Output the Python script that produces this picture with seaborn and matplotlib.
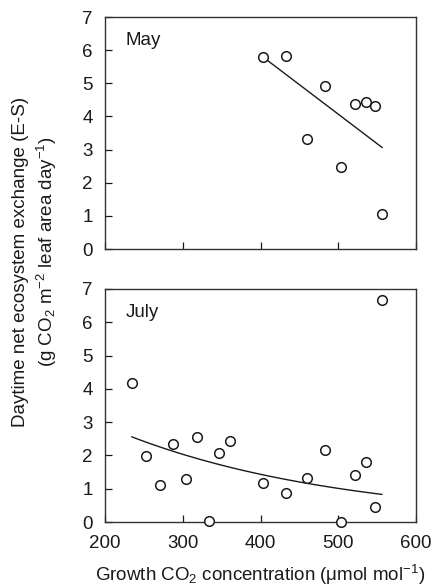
import matplotlib
matplotlib.use("Agg")
import matplotlib.pyplot as plt
import seaborn as sns
import numpy as np
import pandas as pd

# ---- data ----
may_co2 = [402.8, 432.8, 459.7, 483.4, 503.5, 521.5, 535.7, 547.7, 556.6]
may_nee = [5.80, 5.83, 3.32, 4.93, 2.48, 4.38, 4.43, 4.31, 1.06]
may_fit_x = [402.8, 556.6]
may_fit_y = [5.80, 3.06]

july_co2 = [234.3, 253.1, 270.7, 287.9, 303.6, 318.6, 333.8, 347.0, 360.2,
            403.2, 432.8, 459.7, 483.4, 503.1, 521.1, 535.7, 547.7, 556.3]
july_nee = [4.18, 1.97, 1.10, 2.34, 1.30, 2.55, 0.02, 2.06, 2.43,
            1.16, 0.87, 1.33, 2.15, 0.00, 1.41, 1.80, 0.46, 6.67]
# exponential fit y = a * exp(b * x), drawn from first to last CO2 level
july_fit_a = 2.56 * np.exp(0.0035 * 234.3)
july_fit_b = -0.0035
july_fit_range = [234.3, 556.3]

x_ticks = [200, 300, 400, 500, 600]
y_ticks = [0, 1, 2, 3, 4, 5, 6, 7]
panel_labels = ["May", "July"]

sns.set_style("ticks")
plt.rcParams['font.family'] = ['Liberation Sans', 'DejaVu Sans']
plt.rcParams['mathtext.fontset'] = 'custom'
plt.rcParams['mathtext.rm'] = 'Liberation Sans'
plt.rcParams['mathtext.it'] = 'Liberation Sans:italic'

FS = 13.5
fig = plt.figure(figsize=(4.32, 5.87), dpi=100)
ax1 = fig.add_axes([0.2431, 0.5758, 0.7199, 0.3952])
ax2 = fig.add_axes([0.2431, 0.1107, 0.7199, 0.3970])

col = "#1a1a1a"

may_df = pd.DataFrame({"co2": may_co2, "nee": may_nee})
july_df = pd.DataFrame({"co2": july_co2, "nee": july_nee})
may_fit = pd.DataFrame({"co2": may_fit_x, "nee": may_fit_y})
jx = np.linspace(july_fit_range[0], july_fit_range[1], 100)
july_fit = pd.DataFrame({"co2": jx, "nee": july_fit_a * np.exp(july_fit_b * jx)})

for ax, df, fit, lab in [(ax1, may_df, may_fit, panel_labels[0]),
                         (ax2, july_df, july_fit, panel_labels[1])]:
    sns.lineplot(data=fit, x="co2", y="nee", ax=ax, color=col, lw=1.0,
                 estimator=None, sort=False)
    sns.scatterplot(data=df, x="co2", y="nee", ax=ax, marker="o", s=48,
                    facecolor="white", edgecolor=col, linewidth=1.1, zorder=5)
    ax.collections[-1].set_clip_on(False)
    ax.set_xlim(200, 600)
    ax.set_ylim(0, 7)
    ax.set_xticks(x_ticks)
    ax.set_yticks(y_ticks)
    ax.tick_params(direction="in", length=5, width=0.9, colors=col,
                   labelsize=FS, top=False, right=False, pad=9)
    for s in ax.spines.values():
        s.set_linewidth(1.0)
        s.set_color("#333333")
    ax.set_xlabel("")
    ax.set_ylabel("")
    ax.text(0.065, 0.935, lab, transform=ax.transAxes, fontsize=FS,
            va="top", ha="left", color=col)

ax1.tick_params(labelbottom=False)
ax2.set_xlabel("Growth CO$_2$ concentration (μmol mol$^{-1}$)", fontsize=FS,
               color=col, labelpad=8)

fig.text(0.047, 0.553, "Daytime net ecosystem exchange (E-S)", rotation=90,
         ha="center", va="center", fontsize=FS, color=col)
fig.text(0.108, 0.571, "(g CO$_2$ m$^{-2}$ leaf area day$^{-1}$)", rotation=90,
         ha="center", va="center", fontsize=FS, color=col)

fig.savefig("out.png", dpi=100)
